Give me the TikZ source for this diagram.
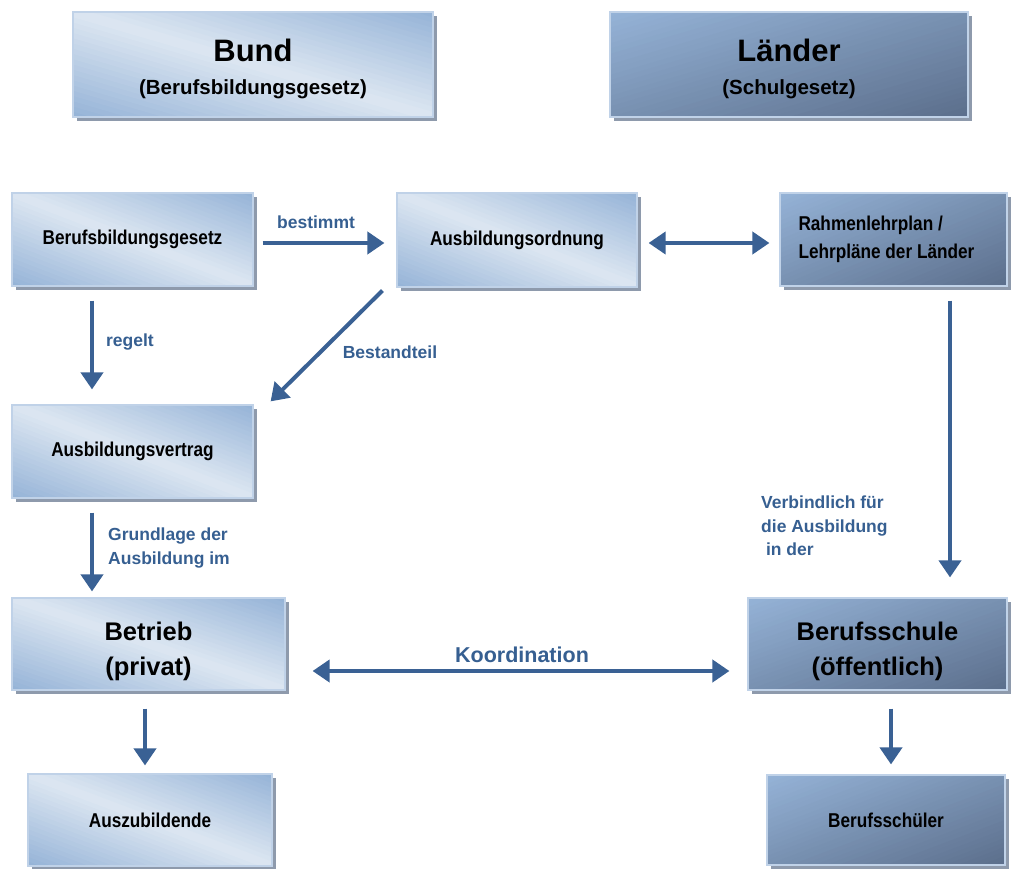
\documentclass[tikz,border=0pt]{standalone}
\usepackage{fontspec}
\setmainfont{Liberation Sans}
\newfontfamily\nb[FakeStretch=0.86]{Liberation Sans}
\usetikzlibrary{arrows.meta,calc}
\definecolor{lb}{HTML}{95B3D7}
\definecolor{ll}{HTML}{DDE7F2}
\definecolor{db}{HTML}{5B6E8B}
\definecolor{bd}{HTML}{C0D2E8}
\definecolor{sh}{HTML}{8E9AAC}
\definecolor{ac}{HTML}{3A6194}
\definecolor{tx}{HTML}{365F91}
% gradient fills: #1 left x, #2 top y, #3 width, #4 height (y grows downward)
\newcommand\gflight[4]{%
  \foreach \i in {0,...,39}{%
    \pgfmathsetmacro\a{\i/20}%
    \pgfmathtruncatemacro\p{100*(1-abs(\a+0.025-1))}%
    \fill[ll!\p!lb] ({#1+(\a+1)*#3},{#2+2*#4}) -- ({#1+(\a-2)*#3},{#2-#4}) -- ({#1+6*#3},{#2-#4}) -- ({#1+6*#3},{#2+2*#4}) -- cycle;
  }}
\newcommand\gfdark[4]{%
  \foreach \i in {0,...,39}{%
    \pgfmathsetmacro\a{\i/20-1}%
    \pgfmathtruncatemacro\p{100*(\a+1.025)/2}%
    \fill[db!\p!lb] ({#1+(\a-1)*#3},{#2+2*#4}) -- ({#1+(\a+2)*#3},{#2-#4}) -- ({#1+6*#3},{#2-#4}) -- ({#1+6*#3},{#2+2*#4}) -- cycle;
  }}
% #1 light/dark, #2 centre x, #3 centre y, #4 width, #5 height
\newcommand\gbfill[5]{%
  \fill[sh] ({#2-#4/2+4},{#3-#5/2+4}) rectangle ++(#4,#5);
  \begin{scope}
    \clip ({#2-#4/2},{#3-#5/2}) rectangle ++(#4,#5);
    \csname gf#1\endcsname{#2-#4/2}{#3-#5/2}{#4}{#5}
  \end{scope}}
\begin{document}
\begin{tikzpicture}[x=1pt,y=-1pt,
 box/.style={draw=bd, line width=1.2pt, inner sep=0pt, font=\bfseries, align=center},
 arr/.style={draw=ac, line width=4pt, -{Triangle[width=22pt,length=17pt]}},
 darr/.style={draw=ac, line width=4pt, {Triangle[width=22pt,length=17pt]}-{Triangle[width=22pt,length=17pt]}},
 lbl/.style={text=tx, font=\bfseries\fontsize{17.5}{23.5}\selectfont, inner sep=0pt, align=left},
 small/.style={font=\nb\bfseries\fontsize{20}{28}\selectfont},
 big/.style={font=\bfseries\fontsize{25.5}{35}\selectfont},
]
\useasboundingbox (0,0) rectangle (1011,869);

% box fills (gradient + shadow)
\gbfill{light}{253}{64.5}{360}{105}
\gbfill{dark}{789}{64.5}{358}{105}
\gbfill{light}{132.5}{239.5}{241}{93}
\gbfill{light}{517}{240}{240}{94}
\gbfill{dark}{893.5}{239.5}{227}{93}
\gbfill{light}{132.5}{451.5}{241}{93}
\gbfill{light}{148.5}{644}{273}{92}
\gbfill{dark}{877.5}{644}{259}{92}
\gbfill{light}{150}{820}{244}{92}
\gbfill{dark}{886}{820}{238}{90}

% top level boxes
\node[box, minimum width=360pt, minimum height=105pt] (bund) at (253,64.5)
  {{\fontsize{31}{31}\selectfont\rule{0pt}{31pt}Bund}\\[17pt]{\fontsize{20.5}{24}\selectfont (Berufsbildungsgesetz)}};
\node[box, minimum width=358pt, minimum height=105pt] (laender) at (789,64.5)
  {{\fontsize{31}{31}\selectfont\rule{0pt}{31pt}Länder}\\[17pt]{\fontsize{20.5}{24}\selectfont (Schulgesetz)}};

% second row
\node[box, small, minimum width=241pt, minimum height=93pt] (bbg) at (132.5,239.5) {Berufsbildungsgesetz};
\node[box, small, minimum width=240pt, minimum height=94pt] (ao) at (517,240) {Ausbildungsordnung};
\node[box, small, align=flush left, text width=190pt, minimum width=227pt, minimum height=93pt] (rlp) at (893.5,239.5) {Rahmenlehrplan /\\Lehrpläne der Länder};

% third row
\node[box, small, minimum width=241pt, minimum height=93pt] (av) at (132.5,451.5) {Ausbildungsvertrag};

% fourth row
\node[box, big, minimum width=273pt, minimum height=92pt] (betrieb) at (148.5,644) {\rule{0pt}{33pt}Betrieb\\(privat)};
\node[box, big, minimum width=259pt, minimum height=92pt] (bs) at (877.5,644) {\rule{0pt}{33pt}Berufsschule\\(öffentlich)};

% bottom row
\node[box, small, minimum width=244pt, minimum height=92pt] (azb) at (150,820) {Auszubildende};
\node[box, small, minimum width=238pt, minimum height=90pt] (bsch) at (886,820) {Berufsschüler};

% connectors
\draw[arr, shorten <=9pt, shorten >=12pt] ([yshift=-3.5pt]bbg.east) -- ([yshift=-3pt]ao.west);
\draw[darr, shorten <=11pt, shorten >=10pt] ([yshift=-3pt]ao.east) -- ([yshift=-3.5pt]rlp.west);
\draw[arr, shorten <=14pt, shorten >=15pt] ([xshift=-40.5pt]bbg.south) -- ([xshift=-40.5pt]av.north);
\draw[arr] ([xshift=-14pt,yshift=-3pt]ao.south west) -- ([xshift=17pt,yshift=3pt]av.north east);
\draw[arr, shorten <=14pt, shorten >=6pt] ([xshift=-40.5pt]av.south) -- ([xshift=-56.5pt]betrieb.north);
\draw[darr, shorten <=27pt, shorten >=18pt] ([yshift=-27pt]betrieb.east) -- ([yshift=-27pt]bs.west);
\draw[arr, shorten <=14pt, shorten >=20pt] ([xshift=56.5pt]rlp.south) -- ([xshift=56.5pt]rlp.south |- bs.north);
\draw[arr, shorten <=18pt, shorten >=8pt] ([xshift=-3.5pt]betrieb.south) -- ([xshift=-5pt]azb.north);
\draw[arr, shorten <=18pt, shorten >=10pt] ([xshift=13.5pt]bs.south) -- ([xshift=5pt]bsch.north);

% labels
\node[lbl] (lbest) at (316,222) {bestimmt};
\node[lbl] (lreg) at (130,342) {regelt};
\node[lbl] (lbes) at (390,352) {Bestandteil};
\node[lbl, anchor=west] (lgrund) at (108,548) {Grundlage der\\Ausbildung im};
\node[lbl, font=\bfseries\fontsize{21.5}{26}\selectfont] (lkoord) at (522,655) {Koordination};
\node[lbl, anchor=west] (lverb) at (761,526) {Verbindlich für\\die Ausbildung\\\ in der};
\end{tikzpicture}
\end{document}
